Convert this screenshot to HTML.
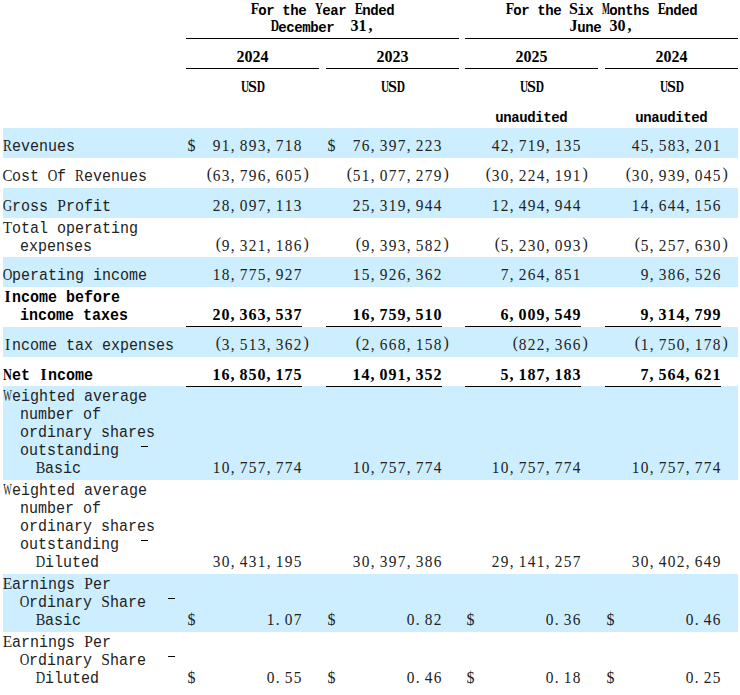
<!DOCTYPE html><html><head><meta charset="utf-8"><style>
html,body{margin:0;padding:0;background:#fff;}
body{width:740px;height:695px;position:relative;overflow:hidden;}
.b{position:absolute;left:3px;width:735px;background:#cceeff;}
.r{position:absolute;height:1px;background:#000;}
.t{position:absolute;white-space:pre;font-family:"Liberation Mono",monospace;font-size:15px;letter-spacing:0.000px;line-height:18px;height:18px;color:#000;transform:scaleY(1.1);transform-origin:0 13px;}
.h{position:absolute;white-space:pre;font-family:"Liberation Serif",serif;font-weight:bold;font-size:16px;line-height:18px;height:18px;color:#000;text-align:center;transform:scaleY(1.0);transform-origin:0 14px;}
.h i{display:inline-flex;justify-content:center;width:8px;font-style:normal;}
.h i.lm{font-family:"Liberation Mono",monospace;font-size:14px;transform:scaleY(1.0);transform-origin:0 13px;position:relative;top:1px}
.n{text-align:right;}
.t i.u{display:inline-flex;justify-content:center;width:9px;font-style:normal;font-family:"Liberation Serif",serif;font-size:15.5px;vertical-align:top;height:18px;line-height:18px;position:relative;top:-2px}
.m{position:absolute;white-space:pre;font-family:"Liberation Serif",serif;font-size:16px;line-height:18px;height:18px;color:#000;transform:scaleY(1.06);transform-origin:0 14px;}
.m i{display:inline-block;width:9px;text-align:center;font-style:normal;transform:scaleX(0.96);}
.m i.cm{text-align:left;box-sizing:border-box;padding-left:0.5px;}
.m i.po{text-align:right;position:relative;top:-2px;transform:none;}
.m i.pc{text-align:left;box-sizing:border-box;padding-left:1.5px;position:relative;top:-2px;transform:none;}
.m i.dl{text-align:left;box-sizing:border-box;padding-left:1.5px;transform:none;}
.t,.m{color:#222}
.bd{font-weight:bold;color:#000}
.m.bd i{transform:none}
</style></head><body>
<div class="b" style="top:128px;height:30px"></div>
<div class="b" style="top:188px;height:30px"></div>
<div class="b" style="top:257px;height:30px"></div>
<div class="b" style="top:327px;height:30px"></div>
<div class="b" style="top:386px;height:94px"></div>
<div class="b" style="top:574px;height:58px"></div>
<div class="h" style="left:186px;width:273px;top:0px"><i style="transform:scaleX(0.859)">F</i><i class="lm">o</i><i class="lm">r</i><i> </i><i class="lm">t</i><i class="lm">h</i><i class="lm">e</i><i> </i><i style="transform:scaleX(0.684)">Y</i><i class="lm">e</i><i class="lm">a</i><i class="lm">r</i><i> </i><i style="transform:scaleX(0.783)">E</i><i class="lm">n</i><i class="lm">d</i><i class="lm">e</i><i class="lm">d</i></div>
<div class="h" style="left:186px;width:273px;top:17px"><i style="transform:scaleX(0.715)">D</i><i class="lm">e</i><i class="lm">c</i><i class="lm">e</i><i class="lm">m</i><i class="lm">b</i><i class="lm">e</i><i class="lm">r</i><i> </i><i> </i><i>3</i><i>1</i><i>,</i></div>
<div class="h" style="left:465px;width:273px;top:0px"><i style="transform:scaleX(0.859)">F</i><i class="lm">o</i><i class="lm">r</i><i> </i><i class="lm">t</i><i class="lm">h</i><i class="lm">e</i><i> </i><i>S</i><i class="lm">i</i><i class="lm">x</i><i> </i><i style="transform:scaleX(0.522)">M</i><i class="lm">o</i><i class="lm">n</i><i class="lm">t</i><i class="lm">h</i><i class="lm">s</i><i> </i><i style="transform:scaleX(0.783)">E</i><i class="lm">n</i><i class="lm">d</i><i class="lm">e</i><i class="lm">d</i></div>
<div class="h" style="left:465px;width:273px;top:17px"><i>J</i><i class="lm">u</i><i class="lm">n</i><i class="lm">e</i><i> </i><i>3</i><i>0</i><i>,</i></div>
<div class="r" style="left:186px;top:38px;width:273px"></div>
<div class="r" style="left:465px;top:38px;width:273px"></div>
<div class="h" style="left:186px;width:133px;top:48px"><i>2</i><i>0</i><i>2</i><i>4</i></div>
<div class="r" style="left:186px;top:68px;width:133px"></div>
<div class="h" style="left:186px;width:133px;top:78px"><i style="transform:scaleX(0.697)">U</i><i>S</i><i style="transform:scaleX(0.715)">D</i></div>
<div class="h" style="left:326px;width:133px;top:48px"><i>2</i><i>0</i><i>2</i><i>3</i></div>
<div class="r" style="left:326px;top:68px;width:133px"></div>
<div class="h" style="left:326px;width:133px;top:78px"><i style="transform:scaleX(0.697)">U</i><i>S</i><i style="transform:scaleX(0.715)">D</i></div>
<div class="h" style="left:465px;width:133px;top:48px"><i>2</i><i>0</i><i>2</i><i>5</i></div>
<div class="r" style="left:465px;top:68px;width:133px"></div>
<div class="h" style="left:465px;width:133px;top:78px"><i style="transform:scaleX(0.697)">U</i><i>S</i><i style="transform:scaleX(0.715)">D</i></div>
<div class="h" style="left:605px;width:133px;top:48px"><i>2</i><i>0</i><i>2</i><i>4</i></div>
<div class="r" style="left:605px;top:68px;width:133px"></div>
<div class="h" style="left:605px;width:133px;top:78px"><i style="transform:scaleX(0.697)">U</i><i>S</i><i style="transform:scaleX(0.715)">D</i></div>
<div class="h" style="left:465px;width:133px;top:107px"><i class="lm">u</i><i class="lm">n</i><i class="lm">a</i><i class="lm">u</i><i class="lm">d</i><i class="lm">i</i><i class="lm">t</i><i class="lm">e</i><i class="lm">d</i></div>
<div class="h" style="left:605px;width:133px;top:107px"><i class="lm">u</i><i class="lm">n</i><i class="lm">a</i><i class="lm">u</i><i class="lm">d</i><i class="lm">i</i><i class="lm">t</i><i class="lm">e</i><i class="lm">d</i></div>
<div class="t" style="left:3px;top:139px"><i class="u" style="transform:scaleX(0.861)">R</i>evenues</div>
<div class="m" style="left:186px;top:137px"><i class="dl">$</i></div>
<div class="m" style="left:212px;top:137px"><i>9</i><i>1</i><i class="cm">,</i><i>8</i><i>9</i><i>3</i><i class="cm">,</i><i>7</i><i>1</i><i>8</i></div>
<div class="m" style="left:326px;top:137px"><i class="dl">$</i></div>
<div class="m" style="left:352px;top:137px"><i>7</i><i>6</i><i class="cm">,</i><i>3</i><i>9</i><i>7</i><i class="cm">,</i><i>2</i><i>2</i><i>3</i></div>
<div class="m" style="left:491px;top:137px"><i>4</i><i>2</i><i class="cm">,</i><i>7</i><i>1</i><i>9</i><i class="cm">,</i><i>1</i><i>3</i><i>5</i></div>
<div class="m" style="left:631px;top:137px"><i>4</i><i>5</i><i class="cm">,</i><i>5</i><i>8</i><i>3</i><i class="cm">,</i><i>2</i><i>0</i><i>1</i></div>
<div class="t" style="left:3px;top:169px"><i class="u" style="transform:scaleX(0.961)">C</i>ost <i class="u" style="transform:scaleX(0.857)">O</i>f <i class="u" style="transform:scaleX(0.861)">R</i>evenues</div>
<div class="m" style="left:203px;top:167px"><i class="po">(</i><i>6</i><i>3</i><i class="cm">,</i><i>7</i><i>9</i><i>6</i><i class="cm">,</i><i>6</i><i>0</i><i>5</i></div>
<div class="m" style="left:302px;top:167px"><i class="pc">)</i></div>
<div class="m" style="left:343px;top:167px"><i class="po">(</i><i>5</i><i>1</i><i class="cm">,</i><i>0</i><i>7</i><i>7</i><i class="cm">,</i><i>2</i><i>7</i><i>9</i></div>
<div class="m" style="left:442px;top:167px"><i class="pc">)</i></div>
<div class="m" style="left:482px;top:167px"><i class="po">(</i><i>3</i><i>0</i><i class="cm">,</i><i>2</i><i>2</i><i>4</i><i class="cm">,</i><i>1</i><i>9</i><i>1</i></div>
<div class="m" style="left:581px;top:167px"><i class="pc">)</i></div>
<div class="m" style="left:622px;top:167px"><i class="po">(</i><i>3</i><i>0</i><i class="cm">,</i><i>9</i><i>3</i><i>9</i><i class="cm">,</i><i>0</i><i>4</i><i>5</i></div>
<div class="m" style="left:721px;top:167px"><i class="pc">)</i></div>
<div class="t" style="left:3px;top:199px"><i class="u" style="transform:scaleX(0.844)">G</i>ross <i class="u">P</i>rofit</div>
<div class="m" style="left:212px;top:197px"><i>2</i><i>8</i><i class="cm">,</i><i>0</i><i>9</i><i>7</i><i class="cm">,</i><i>1</i><i>1</i><i>3</i></div>
<div class="m" style="left:352px;top:197px"><i>2</i><i>5</i><i class="cm">,</i><i>3</i><i>1</i><i>9</i><i class="cm">,</i><i>9</i><i>4</i><i>4</i></div>
<div class="m" style="left:491px;top:197px"><i>1</i><i>2</i><i class="cm">,</i><i>4</i><i>9</i><i>4</i><i class="cm">,</i><i>9</i><i>4</i><i>4</i></div>
<div class="m" style="left:631px;top:197px"><i>1</i><i>4</i><i class="cm">,</i><i>6</i><i>4</i><i>4</i><i class="cm">,</i><i>1</i><i>5</i><i>6</i></div>
<div class="t" style="left:3px;top:221px"><i class="u" style="transform:scaleX(0.952)">T</i>otal operating</div>
<div class="t" style="left:20px;top:239px">expenses</div>
<div class="m" style="left:212px;top:237px"><i class="po">(</i><i>9</i><i class="cm">,</i><i>3</i><i>2</i><i>1</i><i class="cm">,</i><i>1</i><i>8</i><i>6</i></div>
<div class="m" style="left:302px;top:237px"><i class="pc">)</i></div>
<div class="m" style="left:352px;top:237px"><i class="po">(</i><i>9</i><i class="cm">,</i><i>3</i><i>9</i><i>3</i><i class="cm">,</i><i>5</i><i>8</i><i>2</i></div>
<div class="m" style="left:442px;top:237px"><i class="pc">)</i></div>
<div class="m" style="left:491px;top:237px"><i class="po">(</i><i>5</i><i class="cm">,</i><i>2</i><i>3</i><i>0</i><i class="cm">,</i><i>0</i><i>9</i><i>3</i></div>
<div class="m" style="left:581px;top:237px"><i class="pc">)</i></div>
<div class="m" style="left:631px;top:237px"><i class="po">(</i><i>5</i><i class="cm">,</i><i>2</i><i>5</i><i>7</i><i class="cm">,</i><i>6</i><i>3</i><i>0</i></div>
<div class="m" style="left:721px;top:237px"><i class="pc">)</i></div>
<div class="t" style="left:3px;top:268px"><i class="u" style="transform:scaleX(0.857)">O</i>perating income</div>
<div class="m" style="left:212px;top:266px"><i>1</i><i>8</i><i class="cm">,</i><i>7</i><i>7</i><i>5</i><i class="cm">,</i><i>9</i><i>2</i><i>7</i></div>
<div class="m" style="left:352px;top:266px"><i>1</i><i>5</i><i class="cm">,</i><i>9</i><i>2</i><i>6</i><i class="cm">,</i><i>3</i><i>6</i><i>2</i></div>
<div class="m" style="left:500px;top:266px"><i>7</i><i class="cm">,</i><i>2</i><i>6</i><i>4</i><i class="cm">,</i><i>8</i><i>5</i><i>1</i></div>
<div class="m" style="left:640px;top:266px"><i>9</i><i class="cm">,</i><i>3</i><i>8</i><i>6</i><i class="cm">,</i><i>5</i><i>2</i><i>6</i></div>
<div class="t bd" style="left:3px;top:290px"><i class="u">I</i>ncome before</div>
<div class="t bd" style="left:20px;top:308px">income taxes</div>
<div class="m bd" style="left:212px;top:306px"><i>2</i><i>0</i><i class="cm">,</i><i>3</i><i>6</i><i>3</i><i class="cm">,</i><i>5</i><i>3</i><i>7</i></div>
<div class="m bd" style="left:352px;top:306px"><i>1</i><i>6</i><i class="cm">,</i><i>7</i><i>5</i><i>9</i><i class="cm">,</i><i>5</i><i>1</i><i>0</i></div>
<div class="m bd" style="left:500px;top:306px"><i>6</i><i class="cm">,</i><i>0</i><i>0</i><i>9</i><i class="cm">,</i><i>5</i><i>4</i><i>9</i></div>
<div class="m bd" style="left:640px;top:306px"><i>9</i><i class="cm">,</i><i>3</i><i>1</i><i>4</i><i class="cm">,</i><i>7</i><i>9</i><i>9</i></div>
<div class="r" style="left:186px;top:326px;width:116px"></div>
<div class="r" style="left:326px;top:326px;width:116px"></div>
<div class="r" style="left:465px;top:326px;width:116px"></div>
<div class="r" style="left:605px;top:326px;width:116px"></div>
<div class="t" style="left:3px;top:338px"><i class="u">I</i>ncome tax expenses</div>
<div class="m" style="left:212px;top:336px"><i class="po">(</i><i>3</i><i class="cm">,</i><i>5</i><i>1</i><i>3</i><i class="cm">,</i><i>3</i><i>6</i><i>2</i></div>
<div class="m" style="left:302px;top:336px"><i class="pc">)</i></div>
<div class="m" style="left:352px;top:336px"><i class="po">(</i><i>2</i><i class="cm">,</i><i>6</i><i>6</i><i>8</i><i class="cm">,</i><i>1</i><i>5</i><i>8</i></div>
<div class="m" style="left:442px;top:336px"><i class="pc">)</i></div>
<div class="m" style="left:509px;top:336px"><i class="po">(</i><i>8</i><i>2</i><i>2</i><i class="cm">,</i><i>3</i><i>6</i><i>6</i></div>
<div class="m" style="left:581px;top:336px"><i class="pc">)</i></div>
<div class="m" style="left:631px;top:336px"><i class="po">(</i><i>1</i><i class="cm">,</i><i>7</i><i>5</i><i>0</i><i class="cm">,</i><i>1</i><i>7</i><i>8</i></div>
<div class="m" style="left:721px;top:336px"><i class="pc">)</i></div>
<div class="t bd" style="left:3px;top:368px"><i class="u" style="transform:scaleX(0.795)">N</i>et <i class="u">I</i>ncome</div>
<div class="m bd" style="left:212px;top:366px"><i>1</i><i>6</i><i class="cm">,</i><i>8</i><i>5</i><i>0</i><i class="cm">,</i><i>1</i><i>7</i><i>5</i></div>
<div class="m bd" style="left:352px;top:366px"><i>1</i><i>4</i><i class="cm">,</i><i>0</i><i>9</i><i>1</i><i class="cm">,</i><i>3</i><i>5</i><i>2</i></div>
<div class="m bd" style="left:500px;top:366px"><i>5</i><i class="cm">,</i><i>1</i><i>8</i><i>7</i><i class="cm">,</i><i>1</i><i>8</i><i>3</i></div>
<div class="m bd" style="left:640px;top:366px"><i>7</i><i class="cm">,</i><i>5</i><i>6</i><i>4</i><i class="cm">,</i><i>6</i><i>2</i><i>1</i></div>
<div class="r" style="left:186px;top:386px;width:116px"></div>
<div class="r" style="left:326px;top:386px;width:116px"></div>
<div class="r" style="left:465px;top:386px;width:116px"></div>
<div class="r" style="left:605px;top:386px;width:116px"></div>
<div class="t" style="left:3px;top:389px"><i class="u" style="transform:scaleX(0.583)">W</i>eighted average</div>
<div class="t" style="left:20px;top:407px">number of</div>
<div class="t" style="left:20px;top:425px">ordinary shares</div>
<div class="t" style="left:20px;top:443px">outstanding</div>
<div class="t" style="left:36px;top:461px"><i class="u" style="transform:scaleX(0.930)">B</i>asic</div>
<div class="m" style="left:212px;top:459px"><i>1</i><i>0</i><i class="cm">,</i><i>7</i><i>5</i><i>7</i><i class="cm">,</i><i>7</i><i>7</i><i>4</i></div>
<div class="m" style="left:352px;top:459px"><i>1</i><i>0</i><i class="cm">,</i><i>7</i><i>5</i><i>7</i><i class="cm">,</i><i>7</i><i>7</i><i>4</i></div>
<div class="m" style="left:491px;top:459px"><i>1</i><i>0</i><i class="cm">,</i><i>7</i><i>5</i><i>7</i><i class="cm">,</i><i>7</i><i>7</i><i>4</i></div>
<div class="m" style="left:631px;top:459px"><i>1</i><i>0</i><i class="cm">,</i><i>7</i><i>5</i><i>7</i><i class="cm">,</i><i>7</i><i>7</i><i>4</i></div>
<div class="t" style="left:3px;top:483px"><i class="u" style="transform:scaleX(0.583)">W</i>eighted average</div>
<div class="t" style="left:20px;top:501px">number of</div>
<div class="t" style="left:20px;top:519px">ordinary shares</div>
<div class="t" style="left:20px;top:537px">outstanding</div>
<div class="t" style="left:36px;top:555px"><i class="u" style="transform:scaleX(0.839)">D</i>iluted</div>
<div class="m" style="left:212px;top:553px"><i>3</i><i>0</i><i class="cm">,</i><i>4</i><i>3</i><i>1</i><i class="cm">,</i><i>1</i><i>9</i><i>5</i></div>
<div class="m" style="left:352px;top:553px"><i>3</i><i>0</i><i class="cm">,</i><i>3</i><i>9</i><i>7</i><i class="cm">,</i><i>3</i><i>8</i><i>6</i></div>
<div class="m" style="left:491px;top:553px"><i>2</i><i>9</i><i class="cm">,</i><i>1</i><i>4</i><i>1</i><i class="cm">,</i><i>2</i><i>5</i><i>7</i></div>
<div class="m" style="left:631px;top:553px"><i>3</i><i>0</i><i class="cm">,</i><i>4</i><i>0</i><i>2</i><i class="cm">,</i><i>6</i><i>4</i><i>9</i></div>
<div class="t" style="left:3px;top:577px"><i class="u">E</i>arnings <i class="u">P</i>er</div>
<div class="t" style="left:20px;top:595px"><i class="u" style="transform:scaleX(0.857)">O</i>rdinary <i class="u">S</i>hare</div>
<div class="t" style="left:36px;top:613px"><i class="u" style="transform:scaleX(0.930)">B</i>asic</div>
<div class="m" style="left:186px;top:611px"><i class="dl">$</i></div>
<div class="m" style="left:266px;top:611px"><i>1</i><i class="cm">.</i><i>0</i><i>7</i></div>
<div class="m" style="left:326px;top:611px"><i class="dl">$</i></div>
<div class="m" style="left:406px;top:611px"><i>0</i><i class="cm">.</i><i>8</i><i>2</i></div>
<div class="m" style="left:465px;top:611px"><i class="dl">$</i></div>
<div class="m" style="left:545px;top:611px"><i>0</i><i class="cm">.</i><i>3</i><i>6</i></div>
<div class="m" style="left:605px;top:611px"><i class="dl">$</i></div>
<div class="m" style="left:685px;top:611px"><i>0</i><i class="cm">.</i><i>4</i><i>6</i></div>
<div class="t" style="left:3px;top:635px"><i class="u">E</i>arnings <i class="u">P</i>er</div>
<div class="t" style="left:20px;top:653px"><i class="u" style="transform:scaleX(0.857)">O</i>rdinary <i class="u">S</i>hare</div>
<div class="t" style="left:36px;top:671px"><i class="u" style="transform:scaleX(0.839)">D</i>iluted</div>
<div class="m" style="left:186px;top:669px"><i class="dl">$</i></div>
<div class="m" style="left:266px;top:669px"><i>0</i><i class="cm">.</i><i>5</i><i>5</i></div>
<div class="m" style="left:326px;top:669px"><i class="dl">$</i></div>
<div class="m" style="left:406px;top:669px"><i>0</i><i class="cm">.</i><i>4</i><i>6</i></div>
<div class="m" style="left:465px;top:669px"><i class="dl">$</i></div>
<div class="m" style="left:545px;top:669px"><i>0</i><i class="cm">.</i><i>1</i><i>8</i></div>
<div class="m" style="left:605px;top:669px"><i class="dl">$</i></div>
<div class="m" style="left:685px;top:669px"><i>0</i><i class="cm">.</i><i>2</i><i>5</i></div>
<div class="r" style="left:141px;top:446px;width:7px"></div>
<div class="r" style="left:141px;top:540px;width:7px"></div>
<div class="r" style="left:168px;top:598px;width:7px"></div>
<div class="r" style="left:168px;top:656px;width:7px"></div>
</body></html>
